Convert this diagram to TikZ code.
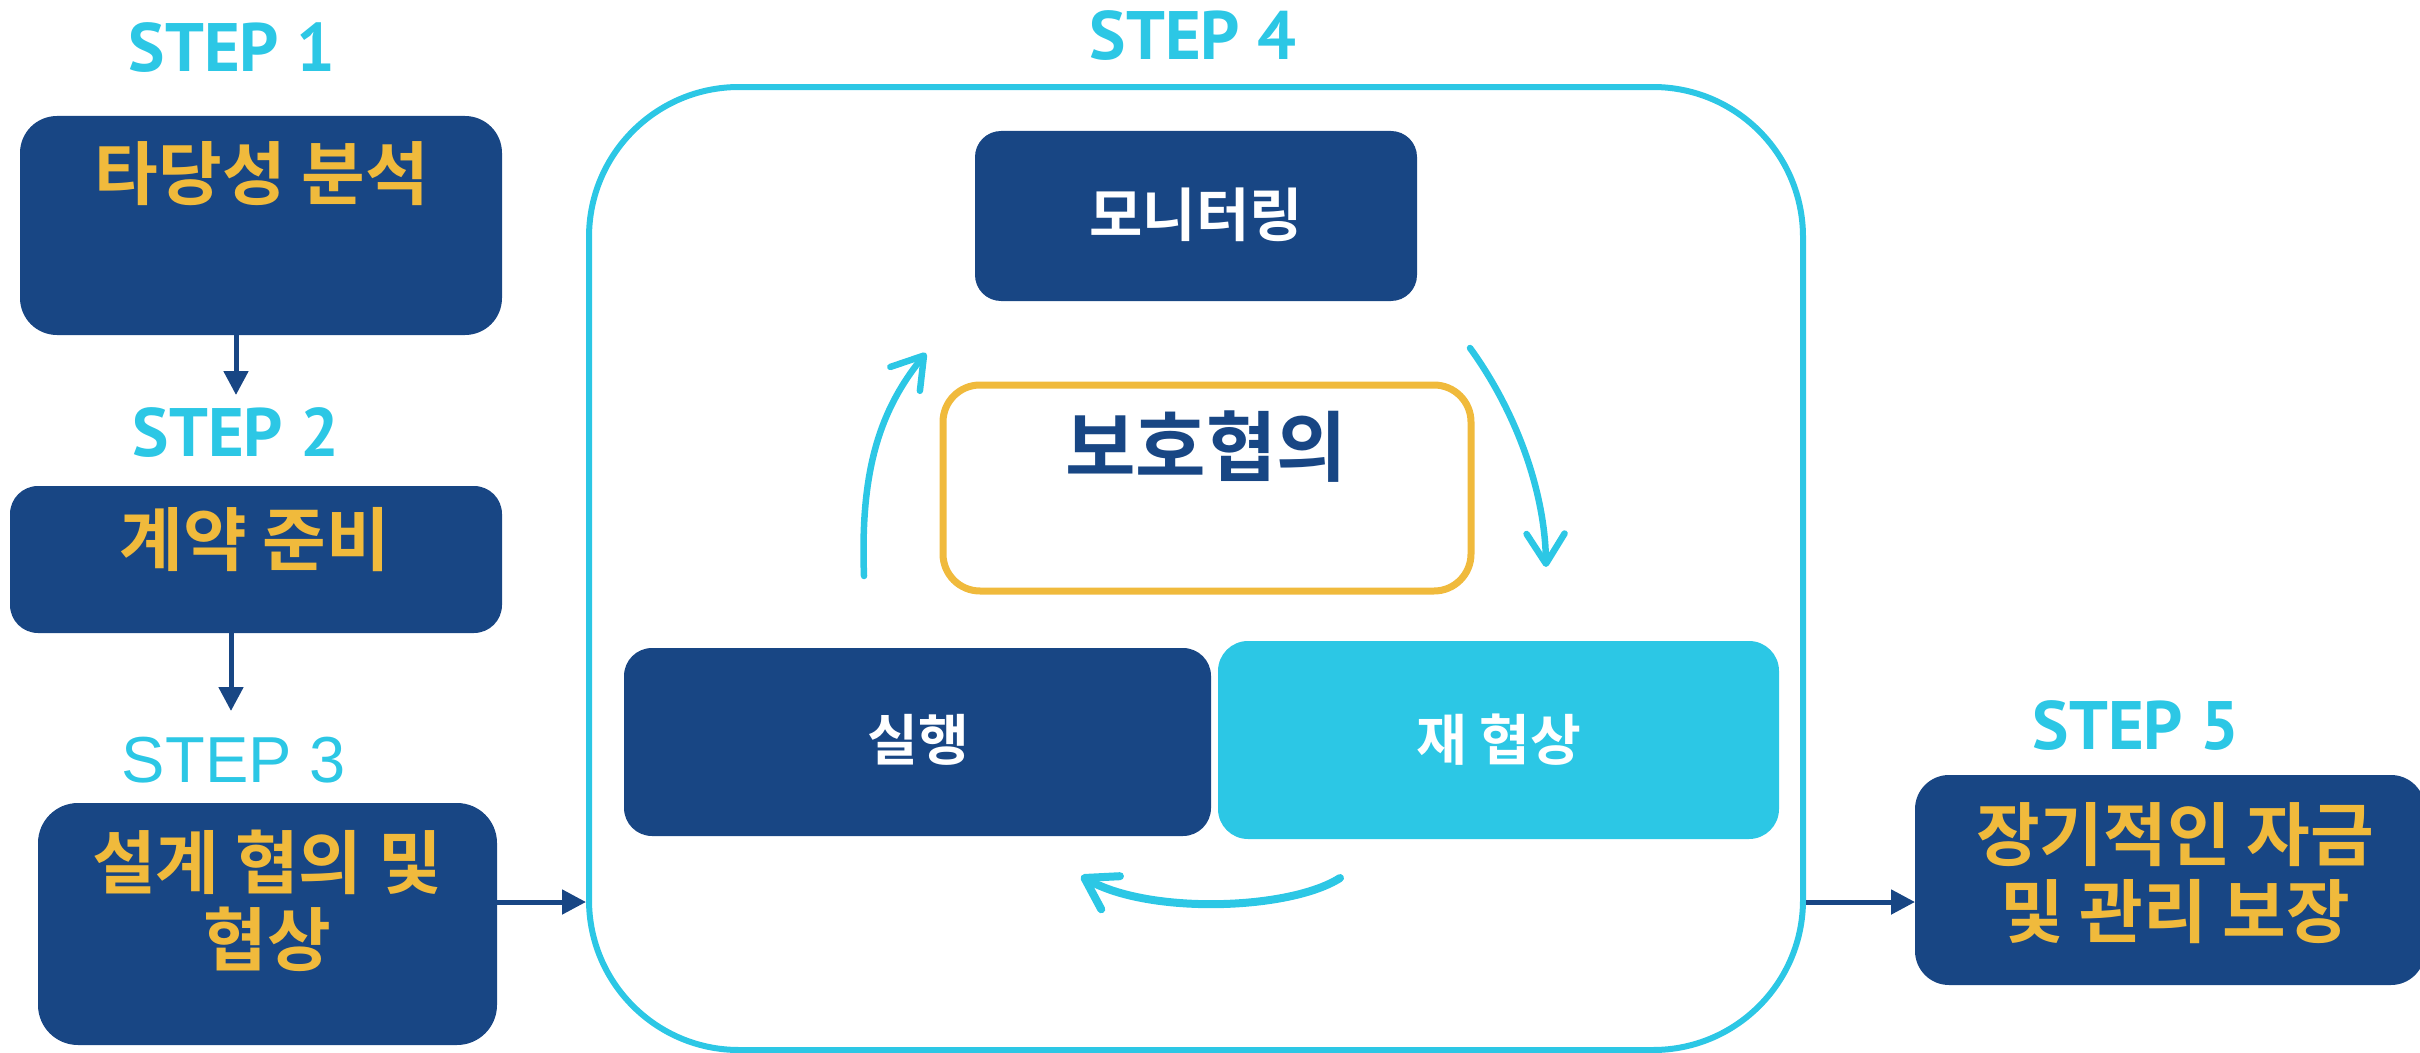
\documentclass[tikz,border=0pt]{standalone}
\usepackage{fontspec}
\setmainfont{PT Sans}
\newfontfamily\kr{Noto Sans CJK KR}[BoldFont={Noto Sans CJK KR Bold}]
\newfontfamily\stepfont{PT Sans}
\newfontfamily\stepthin{Liberation Sans}
\usetikzlibrary{arrows.meta}
\definecolor{dblue}{HTML}{184684}
\definecolor{scyan}{HTML}{2CC7E5}
\definecolor{syellow}{HTML}{F0BA3C}
\tikzset{
  dbox/.style={fill=dblue, draw=none, inner sep=0, outer sep=0},
  ytext/.style={text=syellow, inner sep=0, align=center, font=\kr\bfseries\fontsize{19.7}{21.9}\selectfont},
  wtext/.style={text=white, inner sep=0, font=\kr\bfseries\fontsize{15.7}{18}\selectfont},
  steplabel/.style={text=scyan, inner sep=0, font=\stepfont\bfseries\fontsize{19.5}{24}\selectfont},
  darr/.style={dblue, line width=0.5mm, -{Triangle[length=2.4mm,width=2.4mm]}},
  carr/.style={scyan, line width=0.65mm, line cap=round, -{Straight Barb[round,length=3mm,width=3.8mm]}}
}
\begin{document}
\begin{tikzpicture}[x=0.1mm,y=-0.1mm]
\useasboundingbox (0,0) rectangle (2420,1053);

% STEP labels
\node[steplabel] (s1) at (232,48) {STEP 1};
\node[steplabel] (s2) at (236,433) {STEP 2};
\node[text=scyan, inner sep=0, font=\stepthin\fontsize{18.5}{22}\selectfont] (s3) at (234,760) {STEP 3};
\node[steplabel] (s4) at (1193,36) {STEP 4};
\node[steplabel] (s5) at (2136,726) {STEP 5};

% left column boxes
\node[dbox, rounded corners=3.7mm, minimum width=48.2mm, minimum height=21.9mm] (b1) at (261,225.5) {};
\node[ytext] (t1) at (262,174) {타당성 분석};
\node[dbox, rounded corners=2.8mm, minimum width=49.2mm, minimum height=14.7mm] (b2) at (256,559.5) {};
\node[ytext] (t2) at (255,540) {계약 준비};
\node[dbox, rounded corners=4mm, minimum width=45.9mm, minimum height=24.2mm] (b3) at (267.5,924) {};
\node[ytext] (t3) at (267,900.5) {설계 협의 및\\협상};

% STEP 4 container
\node[draw=scyan, line width=0.6mm, rounded corners=15mm, minimum width=121.4mm, minimum height=96.3mm, inner sep=0] (big) at (1196,568.5) {};
\node[dbox, rounded corners=2.6mm, minimum width=44.2mm, minimum height=17mm] (mon) at (1196,216) {};
\node[wtext, font=\kr\bfseries\fontsize{16.5}{19}\selectfont] (tmon) at (1196,215) {모니터링};
\node[draw=syellow, fill=white, line width=0.7mm, rounded corners=3.7mm, minimum width=52.8mm, minimum height=20.6mm, inner sep=0] (core) at (1207,488) {};
\node[text=dblue, inner sep=0, font=\kr\bfseries\fontsize{21.8}{26}\selectfont] (tcore) at (1206,447) {보호협의};
\node[dbox, rounded corners=2.8mm, minimum width=58.7mm, minimum height=18.8mm] (exe) at (917.5,742) {};
\node[wtext] (texe) at (918,740) {실행};
\node[fill=scyan, draw=none, inner sep=0, rounded corners=3mm, minimum width=56.1mm, minimum height=19.8mm] (ren) at (1498.5,740) {};
\node[wtext] (tren) at (1499,740) {재 협상};

% cycle arrows
\coordinate (l0) at (864,576);
\coordinate (l1) at (926,353);
\draw[carr] (l0) .. controls (860,470) and (880,410) .. (l1);
\coordinate (r0) at (1470,348);
\coordinate (r1) at (1546,567);
\draw[carr] (r0) .. controls (1515,410) and (1545,490) .. (r1);
\coordinate (u0) at (1340,878);
\coordinate (u1) at (1081,876);
\draw[carr, line width=0.8mm] (u0) .. controls (1290,910) and (1150,915) .. (u1);

% STEP 5 box
\node[dbox, rounded corners=3.4mm, minimum width=51mm, minimum height=21mm] (b5) at (2170,880) {};
\node[ytext] (t5) at (2175,873) {장기적인 자금\\및 관리 보장};

% connectors
\coordinate (a1) at (236,395);
\draw[darr] (b1.south -| a1) -- (a1);
\coordinate (a2) at (231,711);
\draw[darr] (b2.south -| a2) -- (a2);
\coordinate (y34) at (0,902);
\draw[darr] (b3.east |- y34) -- (big.west |- y34);
\draw[darr] (big.east |- y34) -- (b5.west |- y34);
\end{tikzpicture}
\end{document}
